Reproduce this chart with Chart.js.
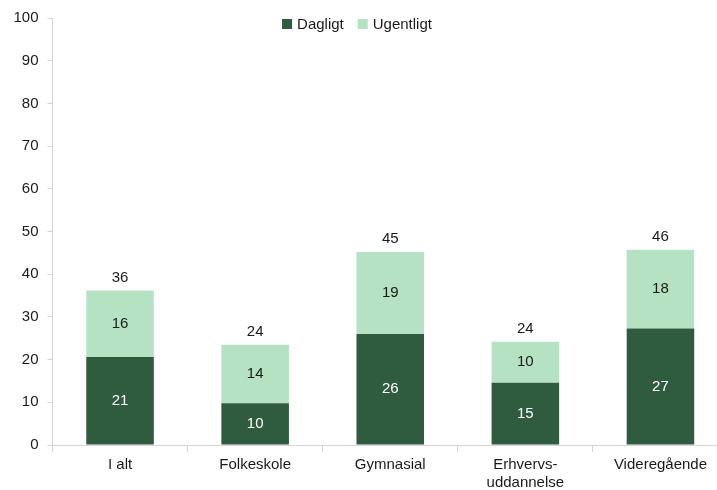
<!DOCTYPE html>
<html lang="da">
<head>
<meta charset="utf-8">
<title>Dagligt og ugentligt</title>
<script src="https://cdn.jsdelivr.net/npm/chart.js@4"></script>
<style>
  html, body { margin: 0; padding: 0; background: #fff; overflow: hidden; }
  #wrap { position: relative; width: 728px; height: 490px; }
</style>
</head>
<body>
<div id="wrap"><canvas id="chart"></canvas></div>
<script>
// Andel (pct.) fordelt på uddannelse
const categories = ["I alt", "Folkeskole", "Gymnasial", ["Erhvervs-", "uddannelse"], "Videregående"];
const dagligt = [20.6, 9.8, 26.0, 14.6, 27.3];
const ugentligt = [15.6, 13.7, 19.2, 9.6, 18.4];
const yTicks = [0, 10, 20, 30, 40, 50, 60, 70, 80, 90, 100];

const DARK = "#2F5B3F";
const LIGHT = "#B5E2C2";
const AXIS = "#D3D3D3";
const FONT = "'Liberation Sans', Arial, sans-serif";

// tal i søjlerne + total over hver søjle
const valueLabels = {
    id: "valueLabels",
    afterDatasetsDraw(chart) {
        const ctx = chart.ctx;
        ctx.save();
        ctx.font = "15px " + FONT;
        ctx.textAlign = "center";
        ctx.textBaseline = "middle";
        chart.data.datasets.forEach((ds, di) => {
            const meta = chart.getDatasetMeta(di);
            meta.data.forEach((bar, i) => {
                const mid = (bar.y + bar.base) / 2;
                ctx.fillStyle = di === 0 ? "#ffffff" : "#1a1a1a";
                ctx.fillText(Math.round(ds.data[i]), bar.x, mid);
            });
        });
        const top = chart.getDatasetMeta(chart.data.datasets.length - 1);
        top.data.forEach((bar, i) => {
            const total = chart.data.datasets.reduce((s, ds) => s + ds.data[i], 0);
            ctx.fillStyle = "#1a1a1a";
            ctx.fillText(Math.round(total), bar.x, bar.y - 13);
        });
        ctx.restore();
    }
};

// forklaring øverst, inde i plotområdet
const topLegend = {
    id: "topLegend",
    afterDraw(chart) {
        const ctx = chart.ctx;
        ctx.save();
        ctx.font = "15px " + FONT;
        ctx.textBaseline = "middle";
        const y = 24;
        const box = 10, gap = 5, spacing = 14;
        const items = chart.data.datasets.map(ds => ({ text: ds.label, color: ds.backgroundColor }));
        let total = 0;
        items.forEach(it => { it.w = box + gap + ctx.measureText(it.text).width; total += it.w; });
        total += spacing * (items.length - 1);
        let x = 357 - total / 2;
        items.forEach(it => {
            ctx.fillStyle = it.color;
            ctx.fillRect(x, y - box / 2, box, box);
            ctx.fillStyle = "#1a1a1a";
            ctx.fillText(it.text, x + box + gap, y + 1);
            x += it.w + spacing;
        });
        ctx.restore();
    }
};

new Chart(document.getElementById("chart").getContext("2d"), {
    type: "bar",
    data: {
        labels: categories,
        datasets: [
            { label: "Dagligt", data: dagligt, backgroundColor: DARK },
            { label: "Ugentligt", data: ugentligt, backgroundColor: LIGHT }
        ]
    },
    options: {
        responsive: true,
        maintainAspectRatio: false,
        animation: false,
        layout: { padding: { top: 18, right: 0, left: 0, bottom: 0 } },
        datasets: { bar: { barPercentage: 0.5, categoryPercentage: 1.0 } },
        plugins: {
            legend: { display: false },
            tooltip: { enabled: false }
        },
        scales: {
            x: {
                stacked: true,
                grid: { display: true, offset: true, drawOnChartArea: false, color: AXIS, tickLength: 7 },
                border: { color: AXIS },
                ticks: { color: "#1a1a1a", font: { family: FONT, size: 15 }, padding: 4, maxRotation: 0 },
                afterFit(scale) { scale.height = 45; }
            },
            y: {
                stacked: true,
                min: 0,
                max: 100,
                afterBuildTicks(scale) { scale.ticks = yTicks.map(v => ({ value: v })); },
                grid: { display: true, drawOnChartArea: false, color: AXIS, tickLength: 5 },
                border: { color: AXIS },
                ticks: { color: "#1a1a1a", font: { family: FONT, size: 15 }, padding: 9 },
                afterFit(scale) { scale.width = 52.5; }
            }
        }
    },
    plugins: [valueLabels, topLegend]
});
</script>
</body>
</html>
